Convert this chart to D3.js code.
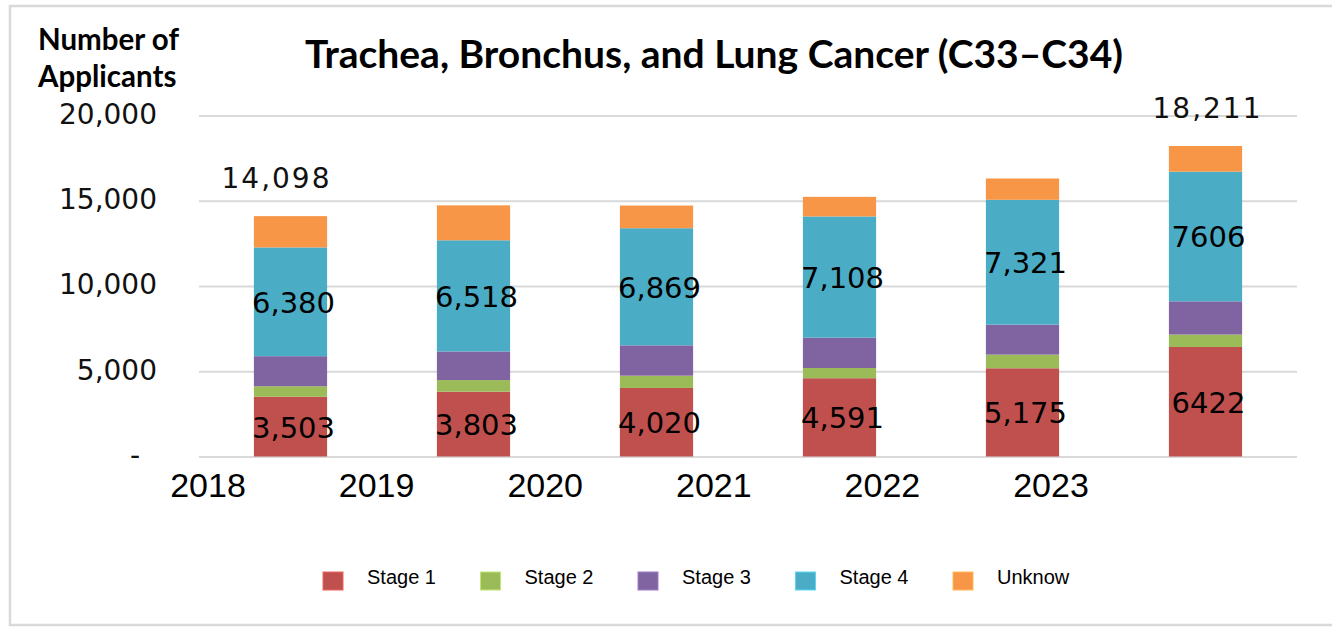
<!DOCTYPE html>
<html>
<meta charset="utf-8">
<style>
body { margin: 0; background: #fff; }
svg { display: block; }
.grid line { stroke: #d9d9d9; stroke-width: 2px; }
.grid path { display: none; }
.yaxis path, .yaxis line { display: none; }
.yaxis text { font-family: "DejaVu Sans", sans-serif; font-size: 28px; fill: #111; }
.xlab { font-family: "Liberation Sans", Arial, sans-serif; font-size: 34px; fill: #000; }
.seglab { font-family: "DejaVu Sans", sans-serif; font-size: 29px; fill: #000; }
.total { font-family: "DejaVu Sans", sans-serif; font-size: 28px; letter-spacing: 2px; fill: #111; }
.legend text { font-family: "Liberation Sans", Arial, sans-serif; font-size: 20px; fill: #000; }
</style>
<body>
<svg width="1332" height="627"></svg>

<script src="https://cdn.jsdelivr.net/npm/d3@7"></script>
<script>

// data
var years = ["2018", "2019", "2020", "2021", "2022", "2023"];
var stages = ["Stage 1", "Stage 2", "Stage 3", "Stage 4", "Unknow"];
var stage1 = [3503, 3803, 4020, 4591, 5175, 6422];
var stage2 = [620, 680, 720, 600, 800, 730];
var stage3 = [1760, 1680, 1780, 1780, 1760, 1950];
var stage4 = [6380, 6518, 6869, 7108, 7321, 7606];
var unknow = [1835, 2050, 1330, 1150, 1250, 1503];
var totals = [14098, null, null, null, null, 18211];
var yTicks = [0, 5000, 10000, 15000, 20000];
var colors = ["#c0504d", "#9bbb59", "#8064a2", "#4bacc6", "#f79646"];

var svg = d3.select("svg");

// outer frame (open on the right side, like the screenshot)
svg.append("path")
    .attr("d", "M1340,6H10V625H1340")
    .attr("fill", "none")
    .attr("stroke", "#d9d9d9")
    .attr("stroke-width", 2.5);

var x = d3.scaleBand()
    .domain(years)
    .range([199, 1297])
    .paddingInner(0.6)
    .paddingOuter(0.3);

var y = d3.scaleLinear()
    .domain([0, 20000])
    .range([456.5, 115.5]);

// year labels sit off the bars in the original, so they get their own scale
var xl = d3.scalePoint()
    .domain(years)
    .range([208, 1051]);

var color = d3.scaleOrdinal().domain(stages).range(colors);

// gridlines
svg.append("g")
    .attr("class", "grid")
    .attr("transform", "translate(199,0)")
    .call(d3.axisLeft(y).tickValues(yTicks).tickSize(-1098).tickFormat(""));

// y tick labels
var yax = svg.append("g")
    .attr("class", "yaxis")
    .attr("transform", "translate(157,0)")
    .call(d3.axisLeft(y).tickValues(yTicks).tickSize(0).tickPadding(0)
      .tickFormat(function(d) { return d === 0 ? "-" : d3.format(",")(d); }));
yax.selectAll("text")
    .attr("dy", "0.28em")
    .filter(function(d) { return d === 0; })
    .attr("x", -17);

// stacked bars
var rows = years.map(function(yr, i) {
  return { year: yr, "Stage 1": stage1[i], "Stage 2": stage2[i], "Stage 3": stage3[i],
           "Stage 4": stage4[i], "Unknow": unknow[i], total: totals[i] };
});

var series = d3.stack().keys(stages)(rows);

var layer = svg.append("g")
  .selectAll("g")
  .data(series)
  .enter().append("g")
    .attr("fill", function(d) { return color(d.key); });

layer.selectAll("rect")
  .data(function(d) { return d; })
  .enter().append("rect")
    .attr("x", function(d) { return x(d.data.year); })
    .attr("y", function(d) { return y(d[1]); })
    .attr("width", x.bandwidth())
    .attr("height", function(d) { return y(d[0]) - y(d[1]); });

// value labels inside stage 1 and stage 4
var labelled = series.filter(function(s) { return s.key === "Stage 1" || s.key === "Stage 4"; });
labelled.forEach(function(s) {
  svg.append("g").selectAll("text")
    .data(s)
    .enter().append("text")
      .attr("class", "seglab")
      .attr("text-anchor", "middle")
      .attr("x", function(d) { return x(d.data.year) + x.bandwidth() / 2 + 3; })
      .attr("y", function(d) { return (y(d[0]) + y(d[1])) / 2 + 11; })
      .text(function(d) {
        var v = d.data[s.key];
        return d.data.year === "2023" ? String(v) : d3.format(",")(v);
      });
});

// totals above first and last bars
svg.append("g").selectAll("text")
  .data(rows.filter(function(r) { return r.total; }))
  .enter().append("text")
    .attr("class", "total")
    .attr("text-anchor", "middle")
    .attr("x", function(d, i) { return x(d.year) + x.bandwidth() / 2 + (i === 0 ? -14 : 2); })
    .attr("y", function(d) { return y(d.total) - 28; })
    .text(function(d) { return d3.format(",")(d.total); });

// year labels
svg.append("g").selectAll("text")
  .data(years)
  .enter().append("text")
    .attr("class", "xlab")
    .attr("text-anchor", "middle")
    .attr("x", function(d) { return xl(d); })
    .attr("y", 497)
    .text(function(d) { return d; });

// titles
svg.append("text")
    .attr("x", 714)
    .attr("y", 68)
    .attr("text-anchor", "middle")
    .style("font-family", "Lato, sans-serif")
    .style("font-weight", "bold")
    .style("font-size", "39px")
    .text("Trachea, Bronchus, and Lung Cancer (C33\u2013C34)");

var ytitle = svg.append("text")
    .style("font-family", "Lato, sans-serif")
    .style("font-weight", "bold")
    .style("font-size", "29.5px");
ytitle.append("tspan").attr("x", 38).attr("y", 50).text("Number of");
ytitle.append("tspan").attr("x", 38).attr("y", 87).text("Applicants");

// legend
var lx = d3.scalePoint().domain(stages).range([323, 953]);

var legend = svg.append("g")
    .attr("class", "legend")
  .selectAll("g")
  .data(stages)
  .enter().append("g")
    .attr("transform", function(d) { return "translate(" + lx(d) + ",572)"; });

legend.append("rect")
    .attr("width", 20)
    .attr("height", 18)
    .attr("fill", function(d) { return color(d); })
    .attr("stroke", function(d) { return d3.color(color(d)).brighter(0.6); })
    .attr("stroke-width", 1);

legend.append("text")
    .attr("x", 44)
    .attr("y", 12)
    .text(function(d) { return d; });

</script>
</body>
</html>
